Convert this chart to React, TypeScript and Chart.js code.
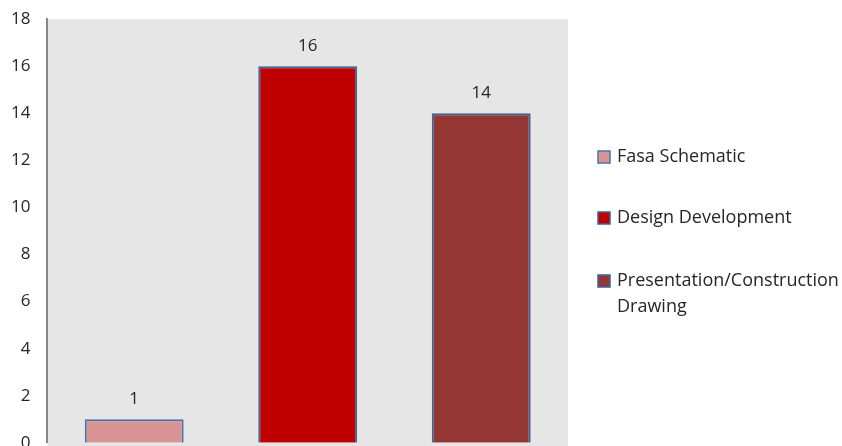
import React, { useEffect, useRef } from "react";
import { Chart, registerables } from "chart.js";

Chart.register(...registerables);

const categories = ["Fasa Schematic", "Design Development", "Presentation/Construction Drawing"];
const legendLines = [["Fasa Schematic"], ["Design Development"], ["Presentation/Construction", "Drawing"]];
const values = [1, 16, 14];
const barColors = ["#D99594", "#C00000", "#943634"];
const borderColors = ["#4A74A8", "#3D6496", "#3D6496"];
const yTicks = [0, 2, 4, 6, 8, 10, 12, 14, 16, 18];

const FONT = "'Open Sans', 'Liberation Sans', sans-serif";
const TEXT = "#262626";
const SHIFT = 8;

const bgPlugin = {
  id: "plotBg",
  beforeDraw(chart: any) {
    const { ctx, chartArea } = chart;
    ctx.save();
    ctx.fillStyle = "#E6E6E6";
    ctx.fillRect(chartArea.left, chartArea.top, chartArea.right - chartArea.left, chart.height - chartArea.top);
    ctx.restore();
  },
};

const labelPlugin = {
  id: "valLabels",
  afterDatasetsDraw(chart: any) {
    const { ctx } = chart;
    const meta = chart.getDatasetMeta(0);
    ctx.save();
    ctx.font = `17px ${FONT}`;
    ctx.fillStyle = TEXT;
    ctx.textAlign = "center";
    ctx.textBaseline = "middle";
    meta.data.forEach((bar: any, i: number) => {
      ctx.fillText(String(values[i]), bar.x, bar.y - 20);
    });
    ctx.restore();
  },
};

const legendPlugin = {
  id: "customLegend",
  afterDraw(chart: any) {
    const { ctx, chartArea } = chart;
    const x0 = chartArea.right + 30;
    const ys = [157, 218, 281].map((v) => v + SHIFT);
    ctx.save();
    ctx.font = `18px ${FONT}`;
    ctx.textBaseline = "middle";
    legendLines.forEach((lines, i) => {
      const y = ys[i];
      ctx.fillStyle = barColors[i];
      ctx.fillRect(x0, y - 6, 12, 12);
      ctx.strokeStyle = borderColors[i];
      ctx.lineWidth = 1.5;
      ctx.strokeRect(x0, y - 6, 12, 12);
      ctx.fillStyle = TEXT;
      lines.forEach((t, j) => ctx.fillText(t, x0 + 19, y + j * 26));
    });
    ctx.restore();
  },
};

export default function App() {
  const ref = useRef<HTMLCanvasElement>(null);
  useEffect(() => {
    if (!ref.current) return;
    const chart = new Chart(ref.current, {
      type: "bar",
      data: {
        labels: categories,
        datasets: [
          {
            data: values,
            backgroundColor: barColors,
            borderColor: borderColors,
            borderWidth: 2,
            barPercentage: 0.57,
            categoryPercentage: 1,
          },
        ],
      },
      options: {
        animation: false,
        responsive: false,
        layout: { padding: { left: -6, right: 274, top: 10, bottom: 5 } },
        plugins: { legend: { display: false }, tooltip: { enabled: false } },
        scales: {
          x: { display: false },
          y: {
            min: 0,
            max: 18,
            afterBuildTicks: (axis: any) => {
              axis.ticks = yTicks.map((v) => ({ value: v }));
            },
            grid: { display: false, drawTicks: false },
            border: { display: true, color: "#888888", width: 2 },
            ticks: { color: TEXT, font: { size: 17, family: FONT }, padding: 17 },
          },
        },
      },
      plugins: [bgPlugin, labelPlugin, legendPlugin],
    });
    return () => chart.destroy();
  }, []);
  return (
    <div style={{ position: "absolute", left: 0, top: 0, width: 842, height: 446, overflow: "hidden", background: "#fff" }}>
      <canvas ref={ref} width={842} height={478} style={{ display: "block", marginTop: -SHIFT }} />
    </div>
  );
}
